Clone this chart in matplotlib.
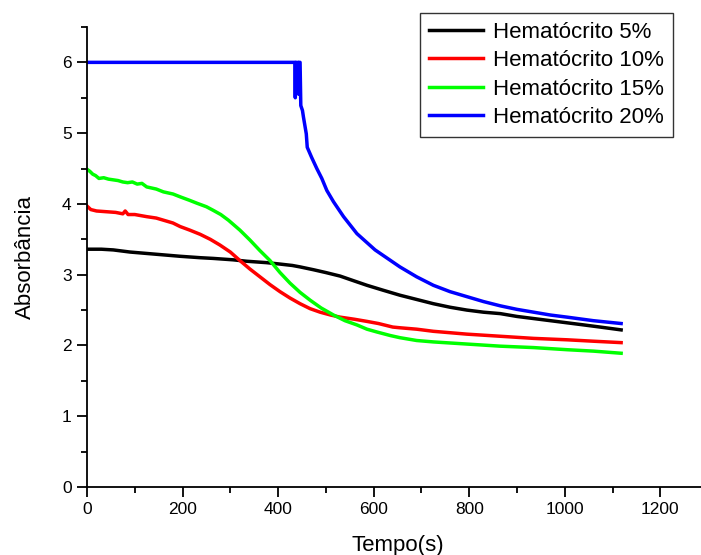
import matplotlib
matplotlib.use("Agg")
import matplotlib.pyplot as plt
from matplotlib.ticker import MultipleLocator

plt.rcParams['font.family'] = ['Liberation Sans', 'DejaVu Sans']

# Hematócrito 5%
t_5 = [0, 30, 55, 90, 125, 160, 195, 237, 264, 306, 334, 376, 404, 430, 446, 474, 500, 530, 560,
       586, 620, 655, 690, 725, 760, 795, 830, 865, 900, 935, 970, 1005, 1040, 1074, 1118]
a_5 = [3.36, 3.36, 3.35, 3.32, 3.30, 3.28, 3.26, 3.24, 3.23, 3.21, 3.19, 3.17, 3.15, 3.13, 3.11,
       3.07, 3.03, 2.98, 2.91, 2.85, 2.78, 2.71, 2.65, 2.59, 2.54, 2.50, 2.47, 2.45, 2.41, 2.38,
       2.35, 2.32, 2.29, 2.26, 2.22]

# Hematócrito 10%
t_10 = [0, 8, 20, 40, 60, 75, 80, 86, 100, 125, 145, 160, 180, 195, 215, 237, 258, 278, 300, 320,
        341, 362, 383, 404, 425, 446, 467, 488, 510, 530, 560, 586, 610, 628, 640, 655, 690, 725,
        795, 865, 935, 1005, 1060, 1118]
a_10 = [3.97, 3.92, 3.90, 3.89, 3.88, 3.86, 3.90, 3.85, 3.85, 3.82, 3.80, 3.77, 3.73, 3.68, 3.63,
        3.57, 3.50, 3.42, 3.32, 3.20, 3.08, 2.97, 2.86, 2.76, 2.67, 2.59, 2.52, 2.47, 2.43, 2.40,
        2.37, 2.34, 2.31, 2.28, 2.26, 2.25, 2.23, 2.20, 2.16, 2.13, 2.10, 2.08, 2.06, 2.04]

# Hematócrito 15%
t_15 = [0, 6, 12, 18, 25, 35, 45, 55, 65, 75, 85, 95, 105, 115, 125, 145, 160, 180, 195, 215, 230,
        250, 264, 280, 296, 320, 341, 362, 383, 404, 425, 446, 467, 490, 516, 540, 565, 586, 607,
        635, 655, 690, 725, 795, 865, 935, 1005, 1060, 1118]
a_15 = [4.49, 4.46, 4.42, 4.40, 4.36, 4.37, 4.35, 4.34, 4.33, 4.31, 4.30, 4.31, 4.28, 4.29, 4.24,
        4.21, 4.17, 4.14, 4.10, 4.05, 4.01, 3.96, 3.91, 3.85, 3.77, 3.63, 3.49, 3.34, 3.20, 3.03,
        2.88, 2.75, 2.64, 2.53, 2.43, 2.35, 2.29, 2.23, 2.19, 2.14, 2.11, 2.07, 2.05, 2.02, 1.99,
        1.97, 1.94, 1.92, 1.89]

# Hematócrito 20%
t_20 = [0, 435, 436, 437, 439, 440, 442, 443, 444, 446, 447.5, 451, 453, 459, 461, 470, 481,
        491.5, 502, 516, 537, 565, 603, 655, 690, 725, 760, 795, 830, 865, 900, 935, 970, 1005,
        1060, 1118]
a_20 = [6.00, 6.00, 5.50, 6.00, 6.00, 5.60, 6.00, 5.55, 6.00, 6.00, 5.39, 5.32, 5.23, 4.99, 4.80,
        4.66, 4.50, 4.36, 4.19, 4.03, 3.82, 3.58, 3.35, 3.11, 2.97, 2.85, 2.76, 2.69, 2.62, 2.56,
        2.51, 2.47, 2.43, 2.40, 2.35, 2.31]

series = [
    (t_5, a_5, 'black', 'Hematócrito 5%'),
    (t_10, a_10, 'red', 'Hematócrito 10%'),
    (t_15, a_15, '#00ff00', 'Hematócrito 15%'),
    (t_20, a_20, 'blue', 'Hematócrito 20%'),
]

fig = plt.figure(figsize=(7.01, 5.55), dpi=100)
ax = fig.add_axes([0.1241, 0.1225, 0.886, 0.8289])

for t, a, c, lab in series:
    ax.plot(t, a, color=c, lw=2.5, label=lab, solid_joinstyle='round')

ax.set_xlim(0, 1300)
ax.set_ylim(0, 6.5)
ax.xaxis.set_major_locator(MultipleLocator(200))
ax.xaxis.set_minor_locator(MultipleLocator(100))
ax.yaxis.set_major_locator(MultipleLocator(1))
ax.yaxis.set_minor_locator(MultipleLocator(0.5))

ax.spines['top'].set_visible(False)
ax.spines['right'].set_visible(False)
for s in ('left', 'bottom'):
    ax.spines[s].set_linewidth(1.3)
ax.tick_params(which='major', direction='out', length=7, width=1.3, labelsize=12.5, pad=4)
ax.tick_params(which='minor', direction='out', length=4, width=1.3)

ax.set_xlabel('Tempo(s)', fontsize=16, labelpad=13)
ax.set_ylabel('Absorbância', fontsize=16, labelpad=19)

leg = ax.legend(loc='upper right', bbox_to_anchor=(673 / 701, 1 - 13 / 555),
                bbox_transform=fig.transFigure, fontsize=16, frameon=True, fancybox=False,
                edgecolor='black', handlelength=2.45, handletextpad=0.45, labelspacing=0.33,
                borderpad=0.4, borderaxespad=0)
leg.get_frame().set_linewidth(1.0)

fig.savefig('out.png', dpi=100)
